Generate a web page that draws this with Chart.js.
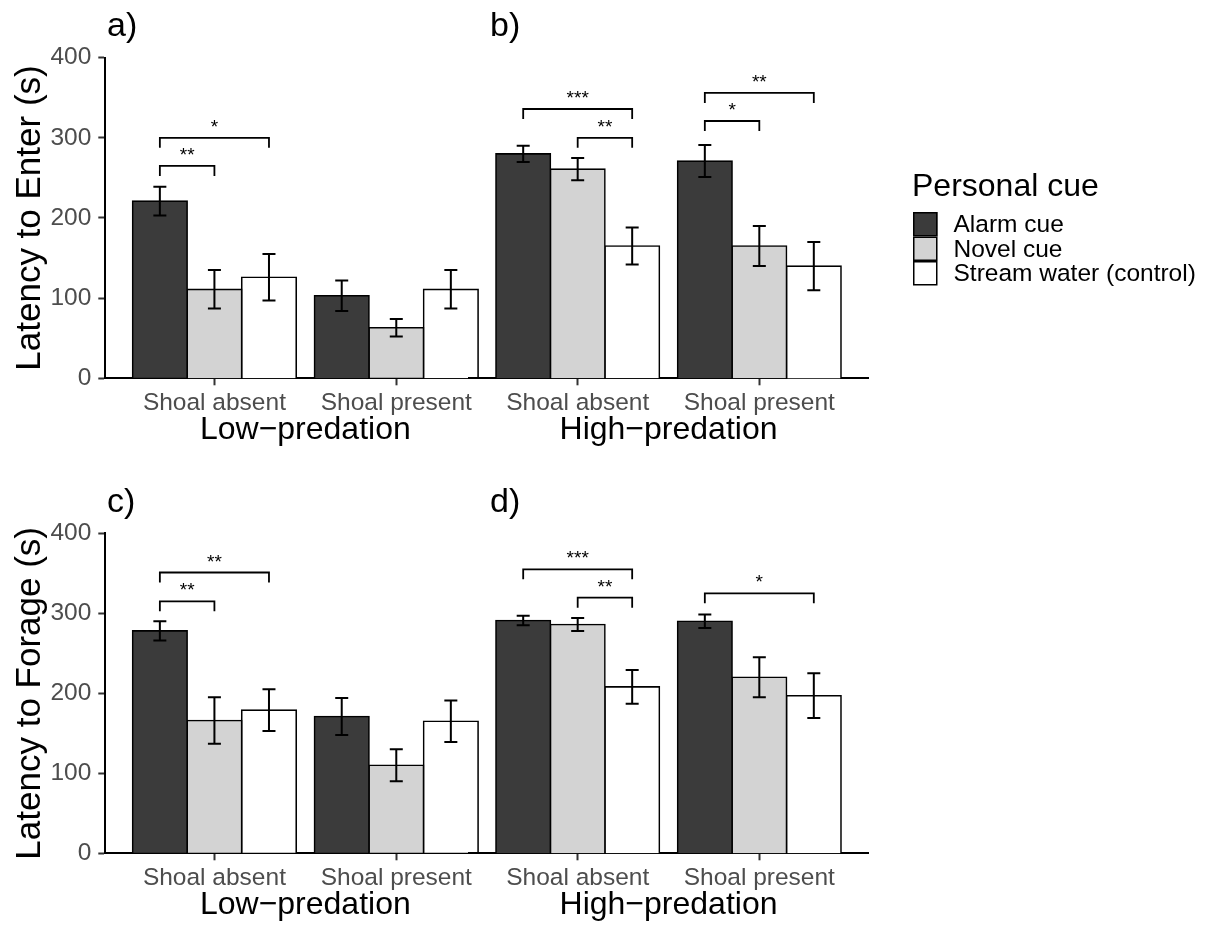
<!DOCTYPE html>
<html>
<head>
<meta charset="utf-8">
<script src="https://cdn.jsdelivr.net/npm/chart.js@4.4.1/dist/chart.umd.min.js"></script>
<style>
  html, body { margin: 0; padding: 0; background: #fff; }
  #wrap { position: relative; width: 1206px; height: 932px; }
  #wrap canvas { position: absolute; left: 0; top: 0; }
</style>
</head>
<body>
<div id="wrap">
  <canvas id="panelA" width="1206" height="932"></canvas>
  <canvas id="panelB" width="1206" height="932"></canvas>
  <canvas id="panelC" width="1206" height="932"></canvas>
  <canvas id="panelD" width="1206" height="932"></canvas>
</div>
<script>
// shoal treatment on the x axis, personal cue as the bar series
const groups = ["Shoal absent", "Shoal present"];
const cues = ["Alarm cue", "Novel cue", "Stream water (control)"];
const yTicks = [0, 100, 200, 300, 400];

// latency to enter (s), mean and SE, [shoal absent, shoal present]
const enterLowAlarm = [221, 103];
const enterLowNovel = [111, 63];
const enterLowStream = [126, 111];
const enterLowAlarmSE = [18, 19];
const enterLowNovelSE = [24, 11];
const enterLowStreamSE = [29, 24];

const enterHighAlarm = [280, 271];
const enterHighNovel = [261, 165];
const enterHighStream = [165, 140];
const enterHighAlarmSE = [10, 20];
const enterHighNovelSE = [14, 25];
const enterHighStreamSE = [23, 30];

// latency to forage (s)
const forageLowAlarm = [278, 171];
const forageLowNovel = [166, 110];
const forageLowStream = [179, 165];
const forageLowAlarmSE = [12, 23];
const forageLowNovelSE = [29, 20];
const forageLowStreamSE = [26, 26];

const forageHighAlarm = [291, 290];
const forageHighNovel = [286, 220];
const forageHighStream = [208, 197];
const forageHighAlarmSE = [6, 8.5];
const forageHighNovelSE = [8, 25];
const forageHighStreamSE = [21, 28];

// pairwise comparisons: [group, cue a, cue b, bracket height (s), label]
const sigEnterLow = [[0, 0, 1, 265, "**"], [0, 0, 2, 300, "*"]];
const sigEnterHigh = [[0, 0, 2, 336, "***"], [0, 1, 2, 300, "**"], [1, 0, 1, 321, "*"], [1, 0, 2, 356, "**"]];
const sigForageLow = [[0, 0, 1, 315, "**"], [0, 0, 2, 351, "**"]];
const sigForageHigh = [[0, 0, 2, 355, "***"], [0, 1, 2, 319.5, "**"], [1, 0, 2, 325, "*"]];

const FONT = '"Liberation Sans", Arial, sans-serif';
const cueFill = ["#3b3b3b", "#d3d3d3", "#ffffff"];
Chart.defaults.font.family = FONT;

const errorBars = {
  id: 'errorBars',
  afterDatasetsDraw(chart) {
    const ctx = chart.ctx, ys = chart.scales.y;
    ctx.save();
    ctx.strokeStyle = '#000';
    ctx.lineWidth = 2;
    chart.data.datasets.forEach((ds, di) => {
      chart.getDatasetMeta(di).data.forEach((bar, i) => {
        const m = ds.data[i].y, e = ds.se[i];
        const top = ys.getPixelForValue(m + e), bot = ys.getPixelForValue(m - e);
        const w = 6.5;
        ctx.beginPath();
        ctx.moveTo(bar.x, top); ctx.lineTo(bar.x, bot);
        ctx.moveTo(bar.x - w, top); ctx.lineTo(bar.x + w, top);
        ctx.moveTo(bar.x - w, bot); ctx.lineTo(bar.x + w, bot);
        ctx.stroke();
      });
    });
    ctx.restore();
  }
};

const brackets = {
  id: 'brackets',
  afterDatasetsDraw(chart, args, opts) {
    const ctx = chart.ctx, ys = chart.scales.y;
    ctx.save();
    ctx.strokeStyle = '#000';
    ctx.fillStyle = '#000';
    ctx.lineWidth = 1.8;
    ctx.font = '19px ' + FONT;
    ctx.textAlign = 'center';
    ctx.textBaseline = 'alphabetic';
    (opts.items || []).forEach(([g, a, b, h, label]) => {
      const x1 = chart.getDatasetMeta(a).data[g].x;
      const x2 = chart.getDatasetMeta(b).data[g].x;
      const y = ys.getPixelForValue(h);
      ctx.beginPath();
      ctx.moveTo(x1, y + 10); ctx.lineTo(x1, y); ctx.lineTo(x2, y); ctx.lineTo(x2, y + 10);
      ctx.stroke();
      ctx.fillText(label, (x1 + x2) / 2, y - 5);
    });
    ctx.restore();
  }
};

const panelTag = {
  id: 'panelTag',
  afterDraw(chart, args, opts) {
    const ctx = chart.ctx;
    ctx.save();
    ctx.fillStyle = '#000';
    ctx.font = '34px ' + FONT;
    ctx.textBaseline = 'alphabetic';
    ctx.fillText(opts.text, opts.x, opts.y);
    ctx.restore();
  }
};

const cueLegend = {
  id: 'cueLegend',
  afterDraw(chart, args, opts) {
    const ctx = chart.ctx, k = opts.key;
    ctx.save();
    ctx.fillStyle = '#000';
    ctx.font = '32px ' + FONT;
    ctx.textBaseline = 'alphabetic';
    ctx.fillText(opts.title, opts.x - 1, opts.titleY);
    ctx.font = '24.5px ' + FONT;
    ctx.textBaseline = 'middle';
    chart.data.datasets.forEach((ds, i) => {
      const y = opts.y + i * k;
      ctx.fillStyle = ds.backgroundColor;
      ctx.fillRect(opts.x, y, k, k);
      ctx.strokeStyle = '#000';
      ctx.lineWidth = 1.5;
      ctx.strokeRect(opts.x + 0.75, y + 0.75, k - 1.5, k - 1.5);
      ctx.fillStyle = '#000';
      ctx.fillText(ds.label, opts.x + k + 16, y + k / 2 + 1);
    });
    ctx.restore();
  }
};

function points(values) {
  return values.map((v, i) => ({ x: i + 1, y: v }));
}

function panel(id, cfg) {
  const yw = cfg.showY ? 100 : 0;
  const xh = 75;
  const f = cfg.frame;
  const plugins = [errorBars, brackets, panelTag];
  if (cfg.legend) plugins.push(cueLegend);
  return new Chart(document.getElementById(id), {
    type: 'bar',
    data: {
      datasets: cues.map((name, i) => ({
        label: name,
        data: points(cfg.means[i]),
        se: cfg.errors[i],
        backgroundColor: cueFill[i],
        borderColor: '#000',
        borderWidth: 1.6,
        inflateAmount: 0.8,
        categoryPercentage: 0.9,
        barPercentage: 1.0
      }))
    },
    options: {
      responsive: false,
      animation: false,
      events: [],
      layout: {
        padding: { left: f.left - yw, right: 1206 - f.right, top: f.top, bottom: 932 - f.bottom - xh }
      },
      scales: {
        x: {
          type: 'linear',
          min: 0.4,
          max: 2.6,
          offset: false,
          afterBuildTicks: (s) => { s.ticks = groups.map((g, i) => ({ value: i + 1 })); },
          afterFit: (s) => { s.height = xh; },
          ticks: {
            callback: (v) => groups[v - 1],
            color: '#4d4d4d',
            font: { size: 24.5 },
            padding: 3,
            maxRotation: 0,
            autoSkip: false
          },
          grid: { display: true, offset: false, drawOnChartArea: false, drawTicks: true, tickLength: 7, tickColor: '#333', tickWidth: 2 },
          border: { display: true, color: '#000', width: 2 },
          title: { display: true, text: cfg.xTitle, color: '#000', font: { size: 32 } }
        },
        y: {
          display: cfg.showY,
          min: 0,
          max: 400,
          afterBuildTicks: (s) => { s.ticks = yTicks.map((v) => ({ value: v })); },
          afterFit: (s) => { s.width = yw; },
          ticks: { color: '#4d4d4d', font: { size: 24.5 }, padding: 7 },
          grid: { display: true, drawOnChartArea: false, drawTicks: true, tickLength: 7, tickColor: '#333', tickWidth: 2 },
          border: { display: true, color: '#000', width: 2 },
          title: { display: !!cfg.yTitle, text: cfg.yTitle, color: '#000', font: { size: 35 } }
        }
      },
      plugins: {
        legend: { display: false },
        tooltip: { enabled: false },
        brackets: { items: cfg.sig },
        panelTag: cfg.tag,
        cueLegend: { title: 'Personal cue', x: 913, y: 212, key: 24.5, titleY: 196 }
      }
    },
    plugins: plugins
  });
}

panel('panelA', {
  frame: { left: 105.3, right: 505.4, top: 57.7, bottom: 378.3 },
  showY: true, yTitle: 'Latency to Enter (s)', xTitle: 'Low\u2212predation',
  means: [enterLowAlarm, enterLowNovel, enterLowStream],
  errors: [enterLowAlarmSE, enterLowNovelSE, enterLowStreamSE],
  sig: sigEnterLow, tag: { text: 'a)', x: 107, y: 36 }
});

panel('panelB', {
  frame: { left: 468.7, right: 868.3, top: 57.7, bottom: 378.3 },
  showY: false, xTitle: 'High\u2212predation',
  means: [enterHighAlarm, enterHighNovel, enterHighStream],
  errors: [enterHighAlarmSE, enterHighNovelSE, enterHighStreamSE],
  sig: sigEnterHigh, tag: { text: 'b)', x: 490, y: 36 }, legend: true
});

panel('panelC', {
  frame: { left: 105.3, right: 505.4, top: 533.3, bottom: 853.3 },
  showY: true, yTitle: 'Latency to Forage (s)', xTitle: 'Low\u2212predation',
  means: [forageLowAlarm, forageLowNovel, forageLowStream],
  errors: [forageLowAlarmSE, forageLowNovelSE, forageLowStreamSE],
  sig: sigForageLow, tag: { text: 'c)', x: 107, y: 512 }
});

panel('panelD', {
  frame: { left: 468.7, right: 868.3, top: 533.3, bottom: 853.3 },
  showY: false, xTitle: 'High\u2212predation',
  means: [forageHighAlarm, forageHighNovel, forageHighStream],
  errors: [forageHighAlarmSE, forageHighNovelSE, forageHighStreamSE],
  sig: sigForageHigh, tag: { text: 'd)', x: 490, y: 512 }
});
</script>
</body>
</html>
